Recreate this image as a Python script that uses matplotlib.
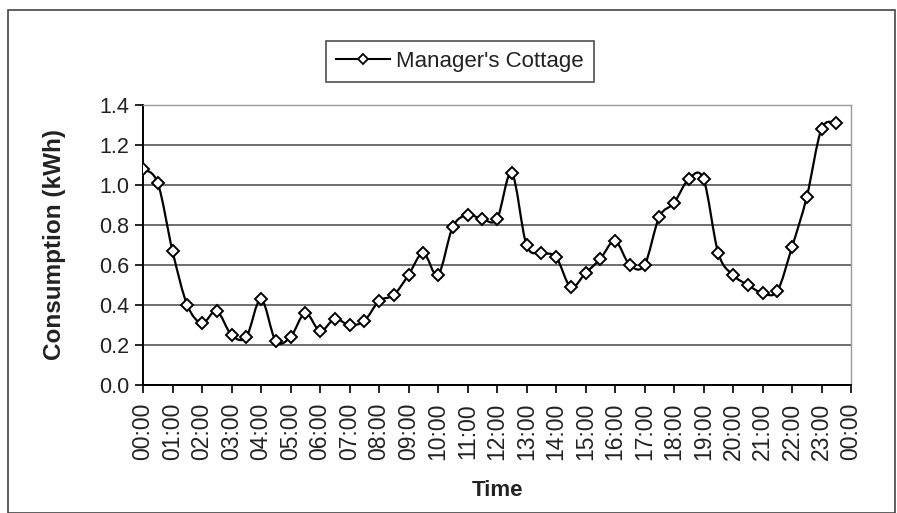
import numpy as np
import matplotlib
matplotlib.use("Agg")
import matplotlib.pyplot as plt
from matplotlib.path import Path
from matplotlib.patches import PathPatch, Rectangle
from matplotlib.lines import Line2D

plt.rcParams['font.family'] = ['Liberation Sans', 'DejaVu Sans']

# Half-hourly consumption readings (kWh), starting 00:00
series_name = "Manager's Cottage"
consumption = [
    1.08, 1.01, 0.67, 0.40, 0.31, 0.37, 0.25, 0.24,
    0.43, 0.22, 0.24, 0.36, 0.27, 0.33, 0.30, 0.32,
    0.42, 0.45, 0.55, 0.66, 0.55, 0.79, 0.85, 0.83,
    0.83, 1.06, 0.70, 0.66, 0.64, 0.49, 0.56, 0.63,
    0.72, 0.60, 0.60, 0.84, 0.91, 1.03, 1.03, 0.66,
    0.55, 0.50, 0.46, 0.47, 0.69, 0.94, 1.28, 1.31,
]
hour_labels = [f"{h % 24:02d}:00" for h in range(25)]
y_ticks = [0.0, 0.2, 0.4, 0.6, 0.8, 1.0, 1.2, 1.4]

W, H = 897, 513
fig = plt.figure(figsize=(W / 100, H / 100), dpi=100)
fig.patch.set_facecolor('white')

# outer chart frame
fig.patches.append(Rectangle((8 / W, 0), (895 - 8) / W, 1 - 10 / H,
                             transform=fig.transFigure, fill=False,
                             edgecolor='#444444', lw=1.2))

ax = fig.add_axes([143 / W, 1 - 385 / H, (851 - 143) / W, 280 / H])

x = np.arange(len(consumption), dtype=float)
y = np.array(consumption, dtype=float)

# smoothed connecting line (cubic Bezier through every reading)
pts = np.column_stack([x, y])
verts = [pts[0]]
codes = [Path.MOVETO]
n = len(pts)
for i in range(n - 1):
    p0 = pts[i - 1] if i > 0 else pts[i]
    p1 = pts[i]
    p2 = pts[i + 1]
    p3 = pts[i + 2] if i + 2 < n else pts[i + 1]
    c1 = p1 + (p2 - p0) / 6.0
    c2 = p2 - (p3 - p1) / 6.0
    verts += [c1, c2, p2]
    codes += [Path.CURVE4] * 3
ax.add_patch(PathPatch(Path(verts, codes), fill=False, edgecolor='black',
                       lw=1.6, zorder=3))
ax.plot(x, y, linestyle='none', marker='D', ms=6.5, mfc='white',
        mec='black', mew=1.4, zorder=4)

ax.set_xlim(0, 48)
ax.set_ylim(0, 1.4)
ax.set_xticks(np.arange(0, 49, 2))
ax.set_xticklabels(hour_labels, rotation=90, fontsize=16.5, color='#222222')
ax.set_yticks(y_ticks)
ax.set_yticklabels([f"{v:.1f}" for v in y_ticks], fontsize=15.5,
                   color='#222222')
ax.tick_params(axis='both', direction='out', length=6, width=1.2,
               color='black', pad=4)
ax.tick_params(axis='x', pad=7)

ax.yaxis.grid(True, color='#555555', lw=1.2)
ax.set_axisbelow(True)
for side in ('left', 'bottom'):
    ax.spines[side].set_color('black')
    ax.spines[side].set_linewidth(1.4)
for side in ('top', 'right'):
    ax.spines[side].set_color('#999999')
    ax.spines[side].set_linewidth(1.0)

ax.set_xlabel('Time', fontsize=16, fontweight='bold', labelpad=14,
              color='#222222')
ax.set_ylabel('Consumption (kWh)', fontsize=17.5, fontweight='bold',
              labelpad=24, color='#222222')

handle = Line2D([], [], color='black', lw=1.5, marker='D', ms=5.5,
                mfc='white', mec='black', mew=1.3)
leg = fig.legend([handle], [series_name], loc='center',
                 bbox_to_anchor=(460 / W, 1 - 61 / H), fontsize=16,
                 frameon=True, fancybox=False, handlelength=2.4,
                 handletextpad=0.3, borderpad=0.45)
leg.get_frame().set_edgecolor('#222222')
leg.get_frame().set_linewidth(1.2)
for t in leg.get_texts():
    t.set_color('#222222')

fig.savefig('out.png', dpi=100)
